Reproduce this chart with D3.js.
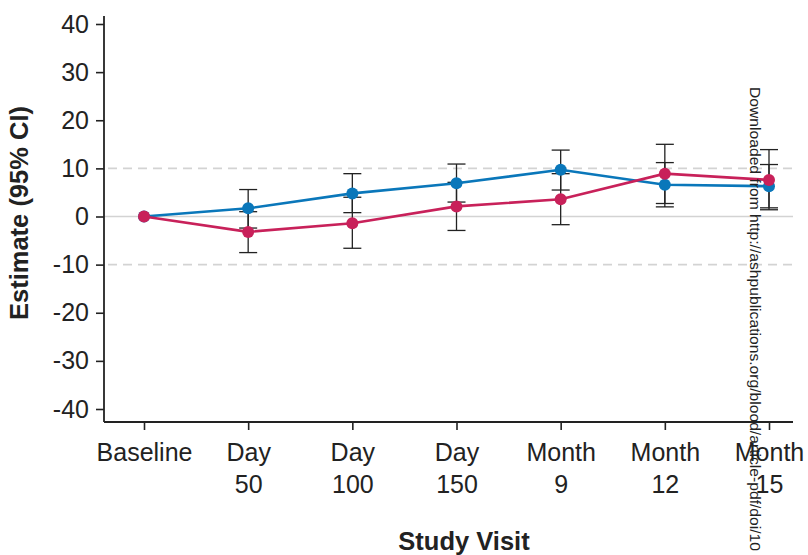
<!DOCTYPE html>
<html>
<head>
<meta charset="utf-8">
<script src="https://cdn.jsdelivr.net/npm/d3@7"></script>
<style>
  html, body { margin: 0; padding: 0; background: #fff; }
  svg { display: block; font-family: "Liberation Sans", Arial, Helvetica, sans-serif; }
</style>
</head>
<body>
<svg id="chart" width="808" height="555"></svg>
<script>
// ---- data ----
const visits = ["Baseline", "Day 50", "Day 100", "Day 150", "Month 9", "Month 12", "Month 15"];
const visitLine1 = ["Baseline", "Day", "Day", "Day", "Month", "Month", "Month"];
const visitLine2 = ["", "50", "100", "150", "9", "12", "15"];

const blueEst   = [0, 1.7, 4.8, 6.9, 9.7, 6.6, 6.3];
const blueLow   = [0, -2.4, 0.8, 3.0, 5.5, 2.0, 1.8];
const blueHigh  = [0, 5.6, 8.9, 10.9, 13.8, 11.2, 10.8];

const redEst    = [0, -3.2, -1.4, 2.1, 3.6, 8.9, 7.6];
const redLow    = [0, -7.5, -6.6, -2.9, -1.7, 2.7, 1.4];
const redHigh   = [0, 1.0, 4.0, 7.1, 8.9, 15.0, 13.9];

const yTicks = [-40, -30, -20, -10, 0, 10, 20, 30, 40];
const yTickLabels = ["-40", "-30", "-20", "-10", "0", "10", "20", "30", "40"];
const refDashed = [-10, 10];
const refSolid = [0];

const blueColor = "#0a77ba";
const redColor = "#c8215a";

// ---- scales ----
const svg = d3.select("#chart");
const x = d3.scalePoint().domain(visits).range([144, 769]);
const y = d3.scaleLinear().domain([-40, 40]).range([409, 24]);
const xAxisY = 422, yAxisX = 104, plotRight = 793;

// reference lines
svg.selectAll("line.refd").data(refDashed).enter().append("line")
  .attr("x1", 108).attr("x2", plotRight)
  .attr("y1", d => y(d)).attr("y2", d => y(d))
  .attr("stroke", "#d3d3d3").attr("stroke-width", 1.6)
  .attr("stroke-dasharray", "9,6");
svg.selectAll("line.refs").data(refSolid).enter().append("line")
  .attr("x1", yAxisX).attr("x2", plotRight)
  .attr("y1", d => y(d)).attr("y2", d => y(d))
  .attr("stroke", "#d3d3d3").attr("stroke-width", 1.6);

// y axis
const yAxis = d3.axisLeft(y).tickValues(yTicks).tickSize(8).tickPadding(7)
  .tickFormat((d, i) => yTickLabels[i]);
const gy = svg.append("g").attr("transform", `translate(${yAxisX},0)`).call(yAxis);
gy.select(".domain").remove();
gy.append("line").attr("x1", 0).attr("x2", 0).attr("y1", 16).attr("y2", xAxisY)
  .attr("stroke", "#222").attr("stroke-width", 1.8);
gy.selectAll(".tick line").attr("stroke", "#222").attr("stroke-width", 1.6);
gy.selectAll(".tick text").attr("font-size", 25).attr("fill", "#222")
  .attr("font-family", "Liberation Sans, Arial, sans-serif");

// x axis
const xAxis = d3.axisBottom(x).tickSize(8).tickFormat(() => "");
const gx = svg.append("g").attr("transform", `translate(0,${xAxisY})`).call(xAxis);
gx.select(".domain").remove();
gx.append("line").attr("x1", yAxisX).attr("x2", plotRight).attr("y1", 0).attr("y2", 0)
  .attr("stroke", "#222").attr("stroke-width", 1.8);
gx.selectAll(".tick line").attr("stroke", "#222").attr("stroke-width", 1.6);
gx.selectAll(".tick text").remove();
gx.selectAll(".tick").each(function(d, i) {
  const t = d3.select(this).append("text")
    .attr("text-anchor", "middle").attr("font-size", 25).attr("fill", "#222");
  t.append("tspan").attr("x", 0).attr("y", 39).text(visitLine1[i]);
  if (visitLine2[i]) t.append("tspan").attr("x", 0).attr("y", 71).text(visitLine2[i]);
});

// axis titles
svg.append("text").attr("x", 464).attr("y", 550).attr("text-anchor", "middle")
  .attr("font-size", 25.5).attr("font-weight", "bold").attr("fill", "#222").text("Study Visit");
svg.append("text").attr("transform", "translate(28,213) rotate(-90)").attr("text-anchor", "middle")
  .attr("font-size", 25.5).attr("font-weight", "bold").attr("fill", "#222").text("Estimate (95% CI)");

// series
const series = [
  { est: blueEst, low: blueLow, high: blueHigh, color: blueColor },
  { est: redEst, low: redLow, high: redHigh, color: redColor }
];

// error bars
series.forEach(s => {
  const g = svg.append("g").attr("stroke", "#222").attr("stroke-width", 1.3);
  visits.forEach((v, i) => {
    if (s.low[i] === s.high[i]) return;
    const cx = x(v);
    g.append("line").attr("x1", cx).attr("x2", cx).attr("y1", y(s.low[i])).attr("y2", y(s.high[i]));
    g.append("line").attr("x1", cx - 9).attr("x2", cx + 9).attr("y1", y(s.low[i])).attr("y2", y(s.low[i]));
    g.append("line").attr("x1", cx - 9).attr("x2", cx + 9).attr("y1", y(s.high[i])).attr("y2", y(s.high[i]));
  });
});

// lines and markers
series.forEach(s => {
  const line = d3.line().x((d, i) => x(visits[i])).y(d => y(d));
  svg.append("path").datum(s.est).attr("d", line).attr("fill", "none")
    .attr("stroke", s.color).attr("stroke-width", 2.6);
  svg.selectAll(null).data(s.est).enter().append("circle")
    .attr("cx", (d, i) => x(visits[i])).attr("cy", d => y(d)).attr("r", 6)
    .attr("fill", s.color);
});

// watermark
svg.append("text").attr("transform", "translate(750,87) rotate(90)")
  .attr("font-size", 15).attr("fill", "#222")
  .attr("textLength", 464).attr("lengthAdjust", "spacingAndGlyphs")
  .text("Downloaded from http://ashpublications.org/blood/article-pdf/doi/10");
</script>
</body>
</html>
